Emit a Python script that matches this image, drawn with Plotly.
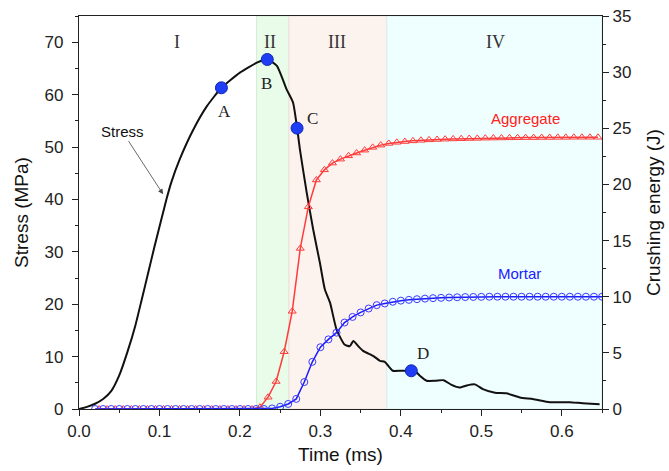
import plotly.graph_objects as go

# ---------------- data ----------------
stress_t = [0, 0.01, 0.02, 0.03, 0.04, 0.05, 0.06, 0.07, 0.078, 0.086, 0.094, 0.103, 0.109,
            0.115, 0.125, 0.142, 0.159, 0.177, 0.200, 0.221, 0.234, 0.246, 0.258, 0.266,
            0.271, 0.2745, 0.283, 0.291, 0.2994, 0.3056, 0.312, 0.320, 0.330, 0.3366,
            0.341, 0.347, 0.353, 0.366, 0.374, 0.380, 0.390, 0.400, 0.413, 0.418, 0.424,
            0.432, 0.443, 0.453, 0.463, 0.473, 0.482, 0.492, 0.502, 0.517, 0.531, 0.548,
            0.564, 0.585, 0.600, 0.610, 0.626, 0.647]
stress_v = [0, 0.4, 1.0, 1.9, 3.4, 6.4, 10.8, 15.9, 20.9, 26.0, 31.1, 36.6, 40.2,
            43.4, 47.6, 53.3, 57.8, 61.3, 64.2, 66.1, 66.7, 65.5, 61.0, 58.5,
            53.7, 49.6, 41.3, 34.3, 27.9, 22.8, 20.3, 15.2, 12.3, 12.0,
            13.0, 12.0, 11.1, 10.1, 9.2, 9.0, 7.3, 7.3, 7.3, 7.2, 6.3,
            5.4, 5.4, 5.5, 4.6, 4.1, 4.5, 4.7, 3.8, 3.1, 3.0, 2.2,
            1.9, 1.3, 1.3, 1.3, 1.1, 0.9]

agg_t = [round(0.025 + 0.01 * k, 3) for k in range(63)]
agg_v = [0] * 20 + [0.16, 1.05, 2.45, 5.1, 8.7, 14.3, 18.0, 20.4, 21.3, 21.9, 22.25, 22.55,
                    22.8, 23.05, 23.3, 23.5, 23.65, 23.75, 23.82, 23.88, 23.93, 23.97, 24.0,
                    24.03, 24.05, 24.07, 24.09, 24.1, 24.12, 24.13, 24.14, 24.15, 24.16,
                    24.17, 24.17, 24.18, 24.18, 24.19, 24.19, 24.2, 24.2, 24.2, 24.2]

mor_t = [round(0.02 + 0.01 * k, 3) for k in range(64)]
mor_v = [0] * 22 + [0.05, 0.2, 0.45, 0.9, 2.4, 4.2, 5.5, 6.2, 6.8, 7.7, 8.2, 8.6, 8.95,
                    9.25, 9.4, 9.55, 9.65, 9.72, 9.78, 9.83, 9.87, 9.9, 9.93, 9.95, 9.97,
                    9.98, 9.99] + [10.0] * 15

pt_labels = ["A", "B", "C", "D"]
pt_t = [0.177, 0.234, 0.271, 0.413]
pt_v = [61.3, 66.7, 53.6, 7.3]

stage_labels = ["I", "II", "III", "IV"]
stage_bounds = [0.0, 0.2207, 0.261, 0.3825, 0.65]
stage_fill = ["rgba(255,255,255,0)", "#e9fbe9", "#fdf3ee", "#effefe"]
stage_edge = ["rgba(0,0,0,0)", "#d3ecd3", "#f0e0d8", "#d8eeee"]
stage_label_x = [0.122, 0.237, 0.321, 0.518]

# ---------------- figure ----------------
fig = go.Figure()

for i in range(4):
    fig.add_shape(type="rect", xref="x", yref="paper",
                  x0=stage_bounds[i], x1=stage_bounds[i + 1], y0=0, y1=1,
                  fillcolor=stage_fill[i], line=dict(color=stage_edge[i], width=1),
                  layer="below")

fig.add_trace(go.Scatter(x=agg_t, y=agg_v, yaxis="y2", mode="lines+markers",
                         line=dict(color="#ff3b3b", width=1.5), cliponaxis=True,
                         marker=dict(symbol="triangle-up-open", size=7, color="#ff3b3b",
                                     line=dict(width=1)),
                         showlegend=False))
fig.add_trace(go.Scatter(x=mor_t, y=mor_v, yaxis="y2", mode="lines+markers",
                         line=dict(color="#1a1aff", width=1.5), cliponaxis=True,
                         marker=dict(symbol="circle-open", size=7, color="#3a3aff",
                                     line=dict(width=1)),
                         showlegend=False))
fig.add_trace(go.Scatter(x=stress_t, y=stress_v, mode="lines",
                         line=dict(color="#111111", width=2, shape="spline", smoothing=0.5),
                         showlegend=False))
fig.add_trace(go.Scatter(x=pt_t, y=pt_v, mode="markers",
                         marker=dict(size=12, color="#1f3df5", line=dict(color="#1028b0", width=1)),
                         showlegend=False))

serif = "Liberation Serif, Times New Roman, serif"
sans = "Liberation Sans, Arial, sans-serif"

for lab, x in zip(stage_labels, stage_label_x):
    fig.add_annotation(x=x, y=0.965, xref="x", yref="paper", text=lab, showarrow=False,
                       font=dict(family=serif, size=18, color="#333333"))

pt_shift = [(3, -24), (-1, -24), (15, 10), (12, 17)]
for lab, x, y, (dx, dy) in zip(pt_labels, pt_t, pt_v, pt_shift):
    fig.add_annotation(x=x, y=y, xref="x", yref="y", text=lab, showarrow=False,
                       xshift=dx, yshift=dy, font=dict(family=serif, size=17, color="#222222"))

fig.add_annotation(x=0.5545, y=24.7, xref="x", yref="y2", text="Aggregate", showarrow=False,
                   yshift=13, font=dict(family=sans, size=15, color="#ff2020"))
fig.add_annotation(x=0.547, y=11.0, xref="x", yref="y2", text="Mortar", showarrow=False,
                   yshift=12, font=dict(family=sans, size=15, color="#2020ff"))
fig.add_annotation(x=0.1045, y=41.0, xref="x", yref="y", text="Stress",
                   ax=-41, ay=-63, showarrow=True, arrowhead=2, arrowsize=1.3,
                   arrowwidth=0.8, arrowcolor="#444444",
                   font=dict(family=sans, size=15, color="#111111"))

axis_common = dict(showline=True, linecolor="#222222", linewidth=1.3, ticks="outside",
                   ticklen=6, tickwidth=1.3, tickcolor="#222222", showgrid=False,
                   zeroline=False, automargin=False,
                   tickfont=dict(family=sans, size=17, color="#222222"))

fig.update_layout(
    width=669, height=471,
    margin=dict(l=79, r=67, t=16, b=62),
    paper_bgcolor="white", plot_bgcolor="white",
    xaxis=dict(range=[0, 0.65], dtick=0.1, tick0=0, tickformat=".1f", mirror=True,
               minor=dict(dtick=0.05, ticks="outside", ticklen=3, tickwidth=1.3, tickcolor="#222222"),
               title=dict(text="Time (ms)", font=dict(family=sans, size=19, color="#111111"),
                          standoff=8),
               **axis_common),
    yaxis=dict(range=[0, 75], dtick=10, tick0=0, ticklabelstandoff=5,
               minor=dict(dtick=5, ticks="outside", ticklen=3, tickwidth=1.3, tickcolor="#222222"),
               title=dict(text="Stress (MPa)", font=dict(family=sans, size=19, color="#111111"),
                          standoff=10),
               **axis_common),
    yaxis2=dict(range=[0, 35], dtick=5, tick0=0, overlaying="y", side="right",
                minor=dict(dtick=2.5, ticks="outside", ticklen=3, tickwidth=1.3, tickcolor="#222222"),
                title=dict(text="Crushing energy (J)", font=dict(family=sans, size=19, color="#111111"),
                           standoff=16),
                **axis_common),
)

fig.write_html("out.html")
